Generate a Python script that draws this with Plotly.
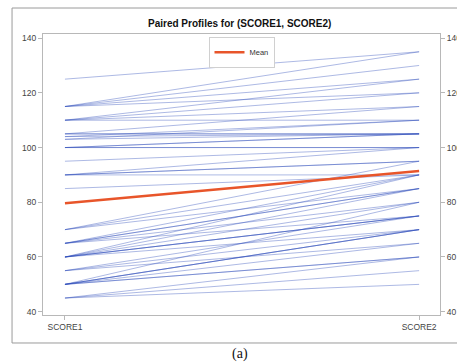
import numpy as np
import plotly.graph_objects as go

categories = ["SCORE1", "SCORE2"]
score1 = [125, 115, 115, 115, 115, 110, 110, 110, 110,
          105, 104, 103, 105, 105, 104, 103, 100, 100, 100, 100,
          95, 90, 90, 90, 90, 85,
          70, 70, 70, 65, 65, 65, 65, 65,
          60, 60, 60, 60, 60, 60, 60,
          55, 55, 55,
          50, 50, 50, 50, 50, 50, 50,
          45, 45, 45]
score2 = [135, 135, 130, 125, 120, 125, 120, 115, 110,
          115, 110, 110, 105, 105, 105, 105, 105, 105, 100, 100,
          100, 100, 95, 95, 90, 90,
          95, 90, 85, 90, 85, 80, 75, 85,
          90, 85, 75, 80, 75, 70, 75,
          75, 70, 65,
          80, 70, 70, 65, 60, 60, 70,
          60, 55, 50]
y_ticks = [40, 60, 80, 100, 120, 140]

mean1 = float(np.mean(score1))
mean2 = float(np.mean(score2))

fig = go.Figure()
for a, b in zip(score1, score2):
    fig.add_trace(go.Scatter(
        x=[0, 1], y=[a, b], mode="lines",
        line=dict(color="rgba(40,70,185,0.38)", width=1),
        showlegend=False, hoverinfo="skip"))

fig.add_trace(go.Scatter(
    x=[0, 1], y=[mean1, mean2], mode="lines", name="Mean",
    line=dict(color="#e8552a", width=2.5)))

# invisible trace to activate right axis
fig.add_trace(go.Scatter(
    x=[0, 1], y=[mean1, mean2], mode="lines", yaxis="y2",
    line=dict(color="rgba(0,0,0,0)", width=0),
    showlegend=False, hoverinfo="skip"))

yr = [38.8, 141.5]
axis_font = dict(family="Liberation Sans, Arial, sans-serif", size=8.5, color="#444")

fig.update_layout(
    width=457, height=364,
    margin=dict(l=43, r=17, t=34, b=49, autoexpand=False),
    paper_bgcolor="white", plot_bgcolor="white",
    font=dict(family="Liberation Sans, Arial, sans-serif", color="#222"),
    xaxis=dict(range=[-0.062, 1.059], tickvals=[0, 1], ticktext=categories,
               showgrid=False, zeroline=False, showline=True, mirror=True,
               linecolor="#b8b8b8", linewidth=1, ticks="outside", ticklen=4,
               tickcolor="#b8b8b8", tickfont=axis_font, automargin=False),
    yaxis=dict(range=yr, tickvals=y_ticks, showgrid=False, zeroline=False,
               showline=True, linecolor="#b8b8b8", linewidth=1,
               ticks="outside", ticklen=4, tickcolor="#b8b8b8",
               tickfont=axis_font, automargin=False),
    yaxis2=dict(range=yr, tickvals=y_ticks, overlaying="y", side="right",
                showgrid=False, zeroline=False, showline=True,
                linecolor="#b8b8b8", linewidth=1, ticks="outside", ticklen=4,
                tickcolor="#b8b8b8", tickfont=axis_font, automargin=False,
                ticklabelstandoff=0),
    legend=dict(x=0.5, xanchor="center", y=0.99, yanchor="top",
                bgcolor="white", bordercolor="#d0d0d0", borderwidth=1,
                font=dict(size=7.5, color="#333"), itemwidth=30,
                tracegroupgap=0),
    showlegend=True,
)

fig.add_annotation(text="<b>Paired Profiles for (SCORE1, SCORE2)</b>",
                   xref="paper", yref="paper", x=0.496, y=1.0356,
                   xanchor="center", yanchor="middle", showarrow=False,
                   font=dict(size=10, color="#111"))
fig.add_annotation(text="(a)", xref="paper", yref="paper", x=0.496, y=-0.139,
                   xanchor="center", yanchor="middle", showarrow=False,
                   font=dict(family="Liberation Serif, Times New Roman, serif",
                             size=14, color="#111"))
fig.add_shape(type="rect", xref="paper", yref="paper",
              x0=-0.078, x1=1.08, y0=-0.0996, y1=1.0925,
              line=dict(color="#9a9a9a", width=1), layer="below")

fig.write_html("out.html",
               config={"displayModeBar": False},
               post_script="document.body.style.margin='0';"
                           "document.body.style.overflow='hidden';")
